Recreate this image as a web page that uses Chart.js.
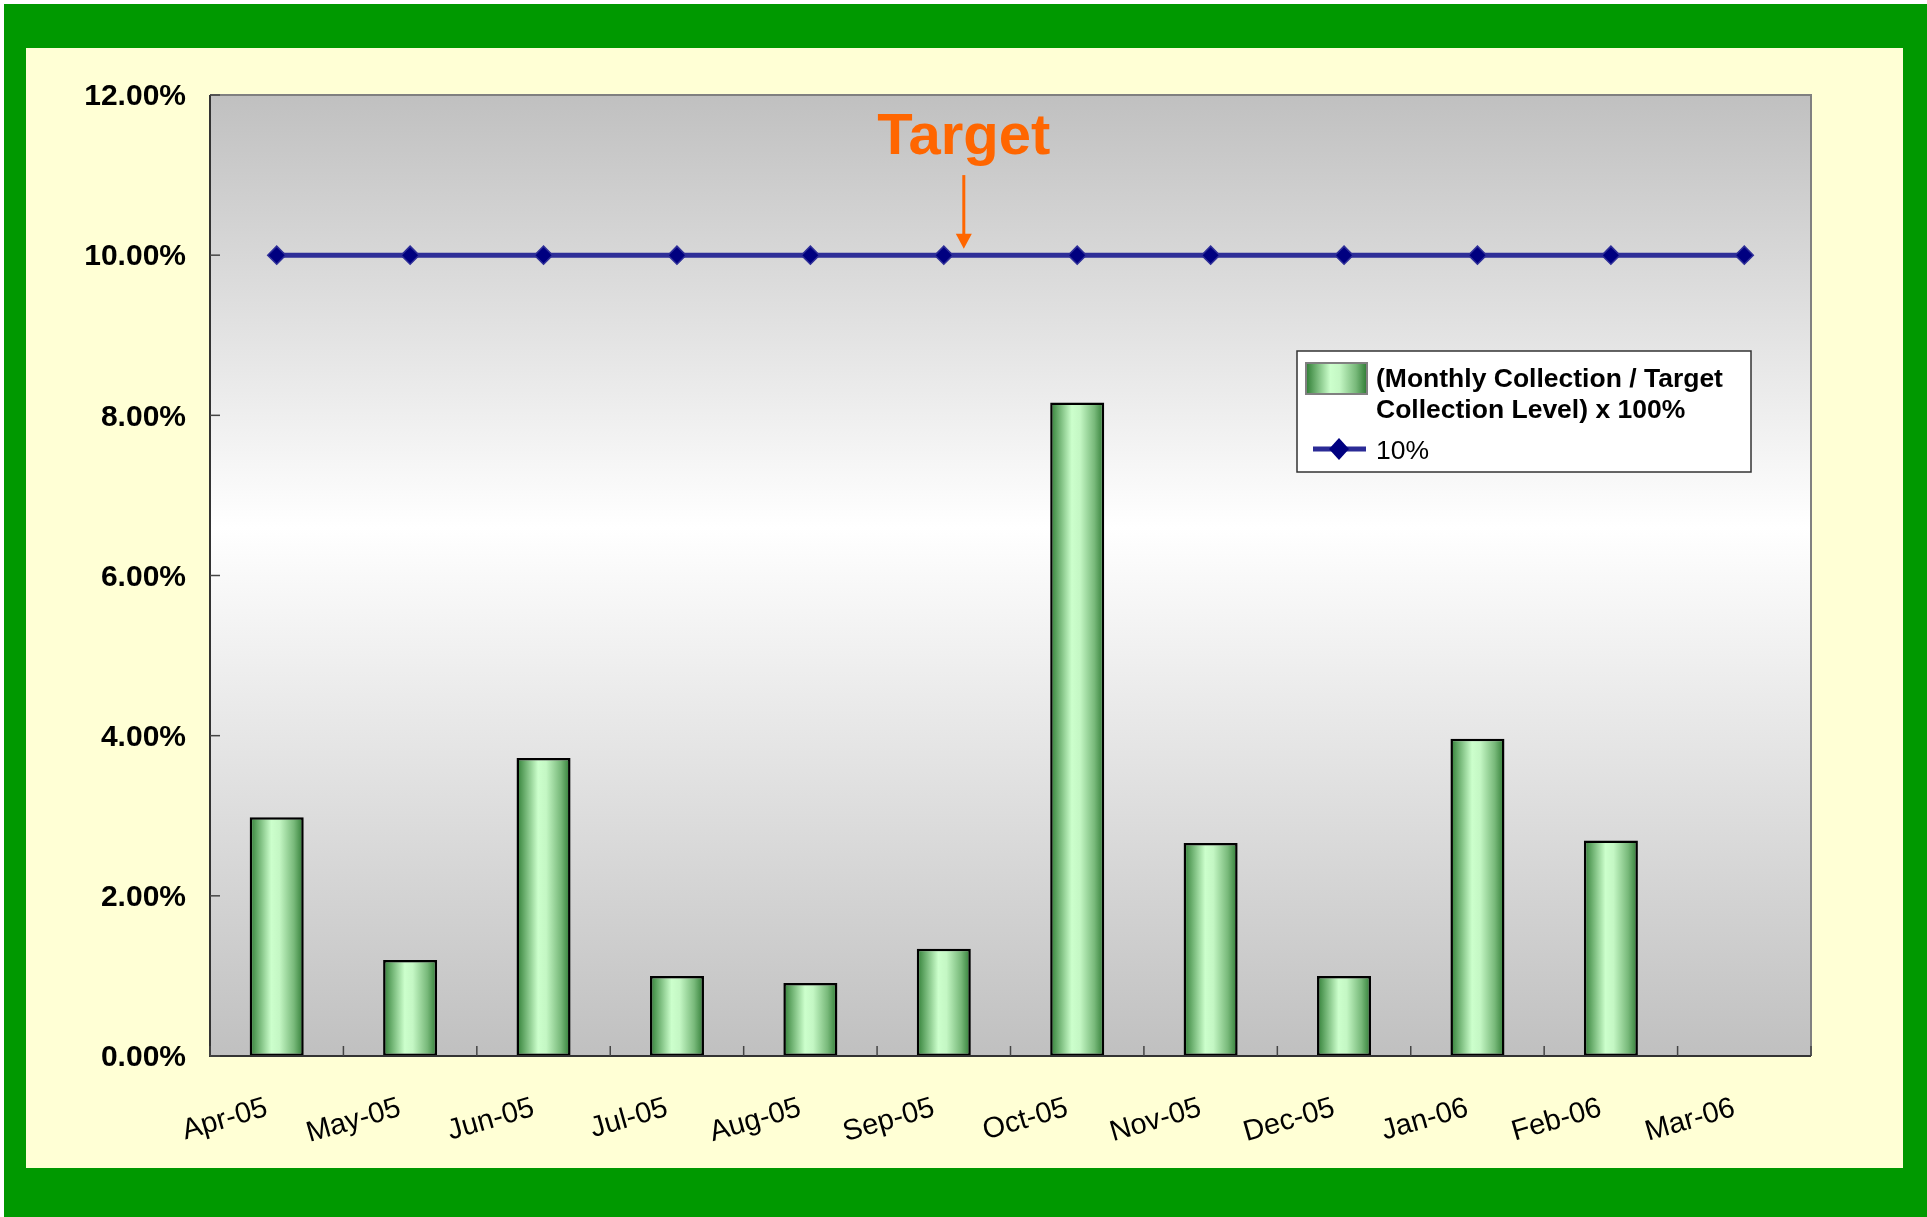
<!DOCTYPE html>
<html>
<head>
<meta charset="utf-8">
<script src="https://cdn.jsdelivr.net/npm/chart.js@4.4.1/dist/chart.umd.min.js"></script>
<style>
  html, body { margin: 0; padding: 0; background: #ffffff; }
  #frame { position: absolute; left: 4px; top: 4px; width: 1923px; height: 1213px; background: #009900; }
  #panel { position: absolute; left: 26px; top: 48px; width: 1877px; height: 1120px; background: #ffffd5; }
</style>
</head>
<body>
<div id="frame"></div>
<div id="panel"><canvas id="myChart"></canvas></div>
<script>
// chart data
const months = ['Apr-05', 'May-05', 'Jun-05', 'Jul-05', 'Aug-05', 'Sep-05', 'Oct-05', 'Nov-05', 'Dec-05', 'Jan-06', 'Feb-06', 'Mar-06'];
const collectionPct = [2.98, 1.20, 3.72, 1.00, 0.91, 1.34, 8.16, 2.66, 1.00, 3.96, 2.69, null];
const targetPct = [10, 10, 10, 10, 10, 10, 10, 10, 10, 10, 10, 10];
const barLabel = ['(Monthly Collection / Target', 'Collection Level) x 100%'];
const lineLabel = '10%';

const FONT = '"Liberation Sans", Arial, sans-serif';
const BAR_PCT = 0.405;

// green "cylinder" look for the bars
function barGradient(c, x0, x1) {
  const g = c.createLinearGradient(x0, 0, x1, 0);
  g.addColorStop(0, '#2f7d34');
  g.addColorStop(0.15, '#6aae6d');
  g.addColorStop(0.4, '#ccffcc');
  g.addColorStop(0.55, '#c4f7c4');
  g.addColorStop(0.82, '#78b97a');
  g.addColorStop(1, '#2e7b33');
  return g;
}

const decor = {
  id: 'decor',
  beforeDraw(chart) {
    const c = chart.ctx;
    const a = chart.chartArea;
    const bg = c.createLinearGradient(0, a.top, 0, a.bottom);
    bg.addColorStop(0, '#c0c0c0');
    bg.addColorStop(0.45, '#ffffff');
    bg.addColorStop(1, '#c0c0c0');
    c.save();
    c.fillStyle = bg;
    c.fillRect(a.left, a.top, a.right - a.left, a.bottom - a.top);
    c.restore();
  },
  afterDatasetsDraw(chart) {
    const c = chart.ctx;
    const a = chart.chartArea;
    const xs = chart.scales.x;
    const ys = chart.scales.y;
    c.save();
    // frame
    c.strokeStyle = '#808080';
    c.lineWidth = 2;
    c.beginPath();
    c.moveTo(a.left, a.top); c.lineTo(a.right, a.top); c.lineTo(a.right, a.bottom);
    c.stroke();
    c.strokeStyle = '#333333';
    c.beginPath();
    c.moveTo(a.left, a.top); c.lineTo(a.left, a.bottom); c.lineTo(a.right, a.bottom);
    c.stroke();
    // inward tick marks
    c.lineWidth = 1.5;
    c.strokeStyle = '#444444';
    for (let i = 0; i <= months.length; i++) {
      const x = xs.getPixelForValue(i - 0.5);
      c.beginPath(); c.moveTo(x, a.bottom); c.lineTo(x, a.bottom - 10); c.stroke();
    }
    ys.ticks.forEach(t => {
      const y = ys.getPixelForValue(t.value);
      c.beginPath(); c.moveTo(a.left, y); c.lineTo(a.left + 10, y); c.stroke();
    });
    c.restore();
  },
  afterDraw(chart) {
    const c = chart.ctx;
    const xs = chart.scales.x;
    const ys = chart.scales.y;
    c.save();
    // "Target" callout
    const tx = xs.getPixelForValue(5.15);
    c.fillStyle = '#ff6600';
    c.strokeStyle = '#ff6600';
    c.font = 'bold 58px ' + FONT;
    c.textAlign = 'center';
    c.textBaseline = 'alphabetic';
    c.fillText('Target', tx, ys.getPixelForValue(11.26));
    const y0 = ys.getPixelForValue(11.0);
    const y1 = ys.getPixelForValue(10.08);
    c.lineWidth = 3;
    c.beginPath(); c.moveTo(tx, y0); c.lineTo(tx, y1 - 12); c.stroke();
    c.beginPath(); c.moveTo(tx - 8, y1 - 15); c.lineTo(tx + 8, y1 - 15); c.lineTo(tx, y1); c.closePath(); c.fill();

    // legend box
    const lx = 1297 - 26, ly = 351 - 48, lw = 454, lh = 121;
    c.fillStyle = '#ffffff';
    c.fillRect(lx, ly, lw, lh);
    c.strokeStyle = '#333333';
    c.lineWidth = 1.5;
    c.strokeRect(lx, ly, lw, lh);
    // bar entry
    const sx = lx + 9, sy = ly + 12, sw = 61, sh = 31;
    c.fillStyle = barGradient(c, sx, sx + sw);
    c.fillRect(sx, sy, sw, sh);
    c.strokeStyle = '#808080';
    c.lineWidth = 2;
    c.strokeRect(sx, sy, sw, sh);
    c.fillStyle = '#000000';
    c.textAlign = 'left';
    c.font = 'bold 26.5px ' + FONT;
    barLabel.forEach((t, i) => c.fillText(t, lx + 79, ly + 36 + i * 31));
    // line entry
    const ey = ly + 98;
    c.strokeStyle = '#2b2b96';
    c.lineWidth = 5;
    c.beginPath(); c.moveTo(lx + 16, ey); c.lineTo(lx + 69, ey); c.stroke();
    c.fillStyle = '#000080';
    c.beginPath();
    c.moveTo(lx + 42, ey - 11); c.lineTo(lx + 52, ey); c.lineTo(lx + 42, ey + 11); c.lineTo(lx + 32, ey);
    c.closePath(); c.fill();
    c.fillStyle = '#000000';
    c.font = '26.5px ' + FONT;
    c.fillText(lineLabel, lx + 79, ey + 10);
    c.restore();
  }
};

const ctx = document.getElementById('myChart').getContext('2d');
const myChart = new Chart(ctx, {
  type: 'bar',
  data: {
    labels: months,
    datasets: [{
      label: barLabel.join(' '),
      data: collectionPct,
      order: 1,
      backgroundColor: function (context) {
        const chart = context.chart;
        if (!chart.chartArea || context.type !== 'data') return '#ccffcc';
        const xs = chart.scales.x;
        const cx = xs.getPixelForValue(context.dataIndex);
        const w = xs.width / months.length * BAR_PCT;
        return barGradient(chart.ctx, cx - w / 2, cx + w / 2);
      },
      borderColor: '#000000',
      borderWidth: 2.5,
      borderSkipped: false,
      barPercentage: BAR_PCT,
      categoryPercentage: 1
    }, {
      type: 'line',
      label: lineLabel,
      data: targetPct,
      order: 0,
      borderColor: '#2e2e98',
      borderWidth: 5,
      pointStyle: 'rectRot',
      pointRadius: 9,
      pointBackgroundColor: '#000080',
      pointBorderColor: '#2e2e98',
      pointBorderWidth: 1.5,
      fill: false
    }]
  },
  options: {
    responsive: true,
    maintainAspectRatio: false,
    animation: false,
    layout: { padding: { top: 47, right: 92, left: 0, bottom: 0 } },
    plugins: {
      legend: { display: false },
      tooltip: { enabled: false }
    },
    scales: {
      x: {
        grid: { display: false },
        border: { display: false },
        afterFit: (scale) => { scale.height = 112; },
        ticks: {
          color: '#000000',
          font: { family: FONT, size: 29 },
          minRotation: 16,
          maxRotation: 16,
          autoSkip: false,
          labelOffset: -10,
          padding: 27
        }
      },
      y: {
        min: 0,
        max: 12,
        grid: { display: false, drawTicks: false },
        border: { display: false },
        afterFit: (scale) => { scale.width = 184; },
        ticks: {
          stepSize: 2,
          color: '#000000',
          padding: 24,
          labelOffset: 2,
          font: { family: FONT, size: 30, weight: 'bold' },
          callback: (v) => v.toFixed(2) + '%'
        }
      }
    }
  },
  plugins: [decor]
});
</script>
</body>
</html>
